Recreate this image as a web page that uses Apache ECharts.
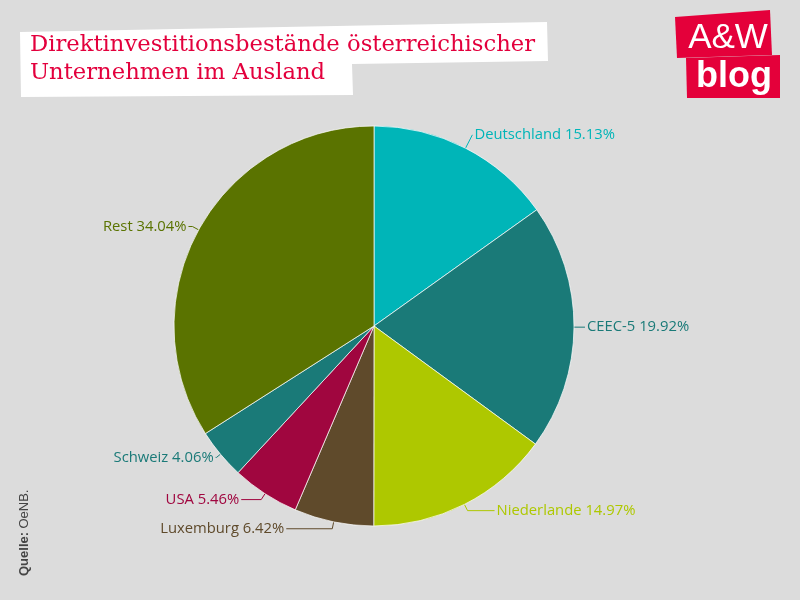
<!DOCTYPE html>
<html><head><meta charset="utf-8">
<script src="https://cdn.jsdelivr.net/npm/echarts@6/dist/echarts.min.js"></script>
<style>html,body{margin:0;padding:0;background:#dcdcdc}#c{width:800px;height:600px}</style>
</head><body><div id="c"></div>
<script>
var categories = ['Deutschland','CEEC-5','Niederlande','Luxemburg','USA','Schweiz','Rest'];
var values = [15.13, 19.92, 14.97, 6.42, 5.46, 4.06, 34.04];
var colors = ['#00b5b8','#1a7a78','#aec800','#5f4a2b','#a0063f','#1a7a78','#5a7300'];
// connector line lengths (style only)
var lineLen1 = [15, 7, 7, 7, 7, 5, 7];
var lineLen2 = [0, 4, 27, 46, 20, 1, 4];
var chart = echarts.init(document.getElementById('c'));
var data = categories.map(function(n,i){return {name:n,value:values[i],itemStyle:{color:colors[i]},label:{color:colors[i]},labelLine:{length:lineLen1[i],length2:lineLen2[i],lineStyle:{color:colors[i]}}};});
chart.setOption({
  backgroundColor:'#dcdcdc',
  animation:false,
  graphic:[
    {type:'polygon',shape:{points:[[20,32],[547,22],[548,61],[352,64],[353,95],[21,97]]},style:{fill:'#ffffff'}},
    {type:'text',left:30,top:31,style:{text:'Direktinvestitionsbestände österreichischer\nUnternehmen im Ausland',fill:'#e3003d',font:'22.7px "DejaVu Serif"',lineHeight:28}},
    {type:'polygon',shape:{points:[[675,17],[770,10],[772,55],[677,58]]},style:{fill:'#e4003a'}},
    {type:'polygon',shape:{points:[[686,58],[780,55],[780,98],[687,98]]},style:{fill:'#e4003a'}},
    {type:'text',x:728,y:38,style:{text:'A&W',fill:'#fff',font:'35px "Liberation Sans"',align:'center',verticalAlign:'middle'}},
    {type:'text',x:734,y:77,style:{text:'blog',fill:'#fff',font:'bold 36px "Liberation Sans"',align:'center',verticalAlign:'middle'}},
    {type:'text',x:24,y:576,rotation:Math.PI/2,style:{rich:{b:{font:'bold 13px "Liberation Sans"',fill:'#444'},n:{font:'13px "Liberation Sans"',fill:'#444'}},text:'{b|Quelle:} {n|OeNB.}',fill:'#444',verticalAlign:'middle'}}
  ],
  series:[{
    type:'pie',
    center:[374,326],
    radius:[0,200],
    startAngle:90,
    clockwise:true,
    itemStyle:{borderColor:'rgba(255,255,255,0.7)',borderWidth:1},
    label:{show:true,formatter:function(p){return p.name+' '+p.value.toFixed(2)+'%';},fontFamily:'"Open Sans"',fontSize:14.8,distanceToLabelLine:2},
    labelLine:{show:true,lineStyle:{width:1}},
    data:data
  }]
});
</script></body></html>
